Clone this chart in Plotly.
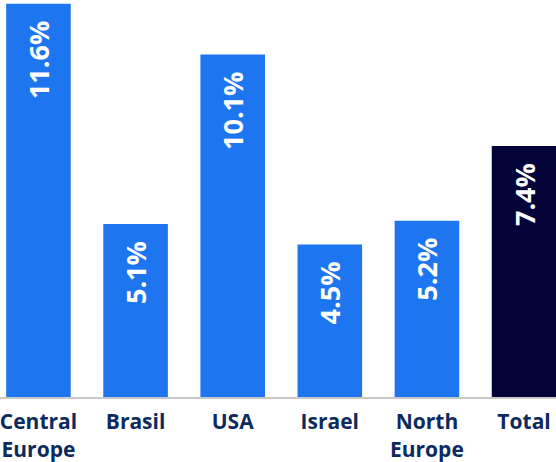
import plotly.graph_objects as go

categories = ["Central<br>Europe", "Brasil", "USA", "Israel", "North<br>Europe", "Total"]
values = [11.6, 5.1, 10.1, 4.5, 5.2, 7.4]
labels = ["11.6%", "5.1%", "10.1%", "4.5%", "5.2%", "7.4%"]
colors = ["#1e75f0"] * 5 + ["#03033a"]

pad = "\u00a0\u00a0"
fig = go.Figure(go.Bar(
    x=list(range(len(categories))),
    y=values,
    text=[t + pad for t in labels],
    textposition="inside",
    insidetextanchor="end",
    textangle=-90,
    textfont=dict(family="Open Sans", size=27, color="white", weight="bold"),
    marker=dict(color=colors, line=dict(width=0)),
    width=0.665,
    cliponaxis=False,
))

fig.update_layout(
    width=556, height=462,
    margin=dict(l=0, r=0, t=0, b=65),
    plot_bgcolor="white", paper_bgcolor="white",
    showlegend=False,
    uniformtext=dict(minsize=27, mode="show"),
)
fig.update_xaxes(
    range=[-0.396, 5.329],
    tickvals=list(range(len(categories))),
    ticktext=[f"<b>{c}</b>" for c in categories],
    tickfont=dict(family="Open Sans", size=21, color="#0c2a5e"),
    ticklabelstandoff=5,
    ticklabeloverflow="allow",
    automargin=False,
    showline=True, linecolor="#c8c8c8", linewidth=2,
    showgrid=False, zeroline=False, ticks="",
)
fig.update_yaxes(range=[0, 11.71], visible=False, showgrid=False, zeroline=False, automargin=False)

fig.write_html("out.html")
